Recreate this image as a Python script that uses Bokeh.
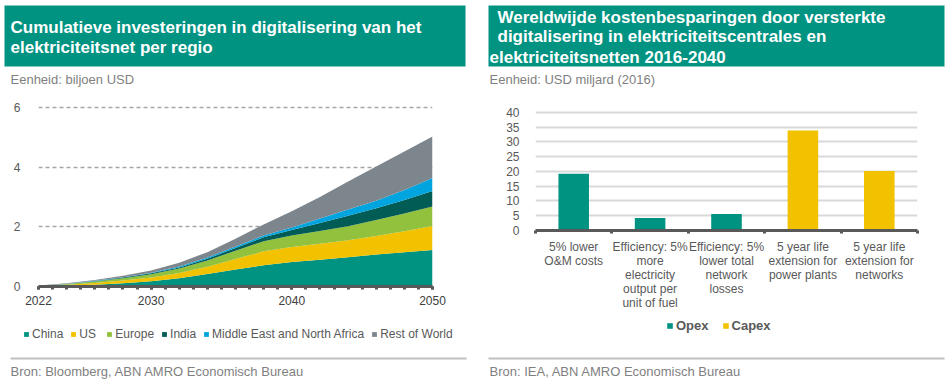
import numpy as np
from bokeh.plotting import figure
from bokeh.models import ColumnDataSource, Range1d, FixedTicker, Legend, LegendItem
from bokeh.layouts import row, column
from bokeh.core.properties import value
from bokeh.embed import file_html
from bokeh.resources import INLINE

FONT = "Liberation Sans"
GREY_TXT = "#595959"

# ---------------- left chart data (biljoen USD, cumulative) ----------------
years = [2022, 2024, 2026, 2028, 2030, 2032, 2034, 2036, 2038, 2040, 2042, 2044, 2046, 2048, 2050]
china = [0.02, 0.03, 0.06, 0.11, 0.18, 0.28, 0.42, 0.57, 0.71, 0.82, 0.90, 0.98, 1.07, 1.15, 1.22]
us = [0.0, 0.03, 0.06, 0.09, 0.12, 0.17, 0.24, 0.35, 0.47, 0.50, 0.53, 0.57, 0.62, 0.70, 0.81]
europe = [0.0, 0.02, 0.05, 0.08, 0.11, 0.15, 0.21, 0.28, 0.34, 0.39, 0.43, 0.47, 0.54, 0.60, 0.65]
india = [0.0, 0.005, 0.01, 0.02, 0.03, 0.04, 0.06, 0.09, 0.13, 0.18, 0.27, 0.35, 0.39, 0.45, 0.52]
mena = [0.0, 0.005, 0.01, 0.01, 0.02, 0.03, 0.04, 0.05, 0.06, 0.09, 0.15, 0.21, 0.25, 0.33, 0.44]
rest_of_world = [0.01, 0.02, 0.03, 0.05, 0.08, 0.13, 0.18, 0.26, 0.37, 0.54, 0.72, 0.94, 1.15, 1.29, 1.39]
region_names = ["China", "US", "Europe", "India", "Middle East and North Africa", "Rest of World"]
region_colors = ["#009382", "#F2C200", "#92C13E", "#005C55", "#00A5DF", "#7E868D"]
left_x_ticks = [2022, 2030, 2040, 2050]
left_y_ticks = [0, 2, 4, 6]

# ---------------- right chart data (USD miljard 2016) ----------------
categories = [
    "5% lower\nO&M costs",
    "Efficiency: 5%\nmore\nelectricity\noutput per\nunit of fuel",
    "Efficiency: 5%\nlower total\nnetwork\nlosses",
    "5 year life\nextension for\npower plants",
    "5 year life\nextension for\nnetworks",
]
opex = [19.2, 4.2, 5.6, np.nan, np.nan]
capex = [np.nan, np.nan, np.nan, 33.9, 20.2]
right_y_ticks = [0, 5, 10, 15, 20, 25, 30, 35, 40]
series_names = ["Opex", "Capex"]
OPEX_C, CAPEX_C = "#009382", "#F2C200"
HEADER_C = "#009382"

LW, RW = 476, 476
HH, CH, FH = 92, 220, 76
DY = 5  # baseline correction for text glyphs


def text_fig(w, h):
    p = figure(width=w, height=h, x_range=Range1d(0, w), y_range=Range1d(h, 0),
               toolbar_location=None, output_backend="svg",
               min_border_left=0, min_border_right=0, min_border_top=0, min_border_bottom=0,
               x_axis_location=None, y_axis_location=None)
    p.frame_align = False
    p.xgrid.visible = False
    p.ygrid.visible = False
    p.outline_line_color = None
    p.background_fill_color = "white"
    p.border_fill_color = "white"
    return p


def header(w, box, lines, sub):
    p = text_fig(w, HH)
    p.quad(left=[box[0]], right=[box[1]], top=[5], bottom=[66], fill_color=HEADER_C, line_color=None)
    for (x, y, t) in lines:
        p.text(x=[x], y=[y - DY], text=[t], text_font=value(FONT), text_font_style="bold",
               text_font_size="17px", text_color="white", text_baseline="alphabetic")
    p.text(x=[sub[0]], y=[84 - DY], text=[sub[1]], text_font=value(FONT), text_font_size="13px",
           text_color="#7F7F7F", text_baseline="alphabetic")
    return p


def footer(w, x0, x1, tx, src, names, colors, leg_loc, leg_kw):
    p = text_fig(w, FH)
    p.segment(x0=[x0], x1=[x1], y0=[46], y1=[46], line_color="#C0C0C0", line_width=2)
    p.text(x=[tx], y=[64 - DY], text=[src], text_font=value(FONT), text_font_size="13px",
           text_color="#7F7F7F", text_baseline="alphabetic")
    items = []
    for n, c in zip(names, colors):
        # zero-area proxy glyph, only used for the legend swatch
        r = p.quad(left=[0], right=[0], top=[0], bottom=[0], fill_color=c, line_color=None)
        items.append(LegendItem(label=n, renderers=[r]))
    leg = Legend(items=items, orientation="horizontal", location=leg_loc,
                 border_line_color=None, background_fill_alpha=0, padding=2, margin=0,
                 label_text_font=FONT, label_text_color=GREY_TXT, **leg_kw)
    p.add_layout(leg)
    return p


# ---------------- left chart ----------------
src = ColumnDataSource(dict(year=years, China=china, US=us, Europe=europe, India=india,
                            MENA=mena, ROW=rest_of_world))
pl = figure(width=LW, height=CH, x_range=Range1d(2022, 2050), y_range=Range1d(0, 6.3),
            toolbar_location=None, output_backend="svg",
            min_border_left=38, min_border_right=44, min_border_top=6, min_border_bottom=26)
pl.frame_align = False
pl.varea_stack(stackers=["China", "US", "Europe", "India", "MENA", "ROW"], x="year",
               color=region_colors, source=src)
pl.outline_line_color = None
pl.xgrid.visible = False
pl.ygrid.ticker = FixedTicker(ticks=left_y_ticks)
pl.ygrid.grid_line_color = "#A6A6A6"
pl.ygrid.grid_line_dash = "4 3"
pl.ygrid.grid_line_width = 1.5
pl.yaxis.ticker = FixedTicker(ticks=left_y_ticks)
pl.yaxis.axis_line_color = None
pl.yaxis.major_tick_line_color = None
pl.yaxis.minor_tick_line_color = None
pl.yaxis.major_label_standoff = 12
pl.yaxis.major_label_text_font = FONT
pl.yaxis.major_label_text_font_size = "12px"
pl.yaxis.major_label_text_color = GREY_TXT
pl.xaxis.ticker = FixedTicker(ticks=left_x_ticks, minor_ticks=list(range(2022, 2051)))
pl.xaxis.axis_line_color = "#595959"
pl.xaxis.axis_line_width = 3
pl.xaxis.major_tick_in = 0
pl.xaxis.major_tick_out = 3
pl.xaxis.minor_tick_in = 0
pl.xaxis.minor_tick_out = 3
pl.xaxis.major_tick_line_color = "#595959"
pl.xaxis.minor_tick_line_color = "#595959"
pl.xaxis.major_tick_line_width = 3
pl.xaxis.minor_tick_line_width = 3
pl.xaxis.major_label_standoff = 6
pl.xaxis.major_label_text_font = FONT
pl.xaxis.major_label_text_font_size = "12px"
pl.xaxis.major_label_text_color = "#404040"

hl = header(LW, (4, 465), [(10, 32, "Cumulatieve investeringen in digitalisering van het"),
                           (10, 52, "elektriciteitsnet per regio")],
            (10, "Eenheid: biljoen USD"))
fl = footer(LW, 10, 466, 10, "Bron: Bloomberg, ABN AMRO Economisch Bureau",
            region_names, region_colors, (23, 47),
            dict(glyph_width=6, glyph_height=6, label_standoff=3, spacing=7,
                 label_text_font_size="12px", label_height=12))

# ---------------- right chart ----------------
xs = [i + 0.5 for i in range(len(categories))]
bsrc = ColumnDataSource(dict(x=xs, opex=opex, capex=capex))
pr = figure(width=RW, height=CH, x_range=Range1d(0, len(categories)), y_range=Range1d(0, 41),
            toolbar_location=None, output_backend="svg",
            min_border_left=59, min_border_right=35, min_border_top=17, min_border_bottom=80)
pr.frame_align = False
pr.vbar(x="x", top="opex", width=0.4, source=bsrc, fill_color=OPEX_C, line_color=None)
pr.vbar(x="x", top="capex", width=0.4, source=bsrc, fill_color=CAPEX_C, line_color=None)
pr.outline_line_color = None
pr.xgrid.visible = False
pr.ygrid.ticker = FixedTicker(ticks=right_y_ticks)
pr.ygrid.grid_line_color = "#D9D9D9"
pr.ygrid.grid_line_width = 2
pr.yaxis.ticker = FixedTicker(ticks=right_y_ticks)
pr.yaxis.axis_line_color = None
pr.yaxis.major_tick_line_color = None
pr.yaxis.minor_tick_line_color = None
pr.yaxis.major_label_standoff = 10
pr.yaxis.major_label_text_font = FONT
pr.yaxis.major_label_text_font_size = "12px"
pr.yaxis.major_label_text_color = GREY_TXT
pr.xaxis.ticker = FixedTicker(ticks=xs, minor_ticks=list(range(len(categories) + 1)))
pr.xaxis.major_label_overrides = {x: c for x, c in zip(xs, categories)}
pr.xaxis.axis_line_color = "#595959"
pr.xaxis.axis_line_width = 3
pr.xaxis.major_tick_line_color = None
pr.xaxis.major_tick_in = 0
pr.xaxis.major_tick_out = 0
pr.xaxis.minor_tick_in = 0
pr.xaxis.minor_tick_out = 3
pr.xaxis.minor_tick_line_color = "#595959"
pr.xaxis.minor_tick_line_width = 3
pr.xaxis.major_label_standoff = 6
pr.xaxis.major_label_text_font = FONT
pr.xaxis.major_label_text_font_size = "12px"
pr.xaxis.major_label_text_color = GREY_TXT
pr.xaxis.major_label_text_line_height = 1.0

hr = header(RW, (12, 468), [(21, 22, "Wereldwijde kostenbesparingen door versterkte"),
                            (21, 41, "digitalisering in elektriciteitscentrales en"),
                            (13, 62, "elektriciteitsnetten 2016-2040")],
            (13, "Eenheid: USD miljard (2016)"))
fr = footer(RW, 12, 468, 13, "Bron: IEA, ABN AMRO Economisch Bureau",
            series_names, [OPEX_C, CAPEX_C], (190, 55),
            dict(glyph_width=7, glyph_height=7, label_standoff=3, spacing=13,
                 label_text_font_size="13px", label_text_font_style="bold", label_height=12))

layout = row(column(hl, pl, fl, spacing=0), column(hr, pr, fr, spacing=0), spacing=0)
open("out.html", "w").write(file_html(layout, INLINE))
